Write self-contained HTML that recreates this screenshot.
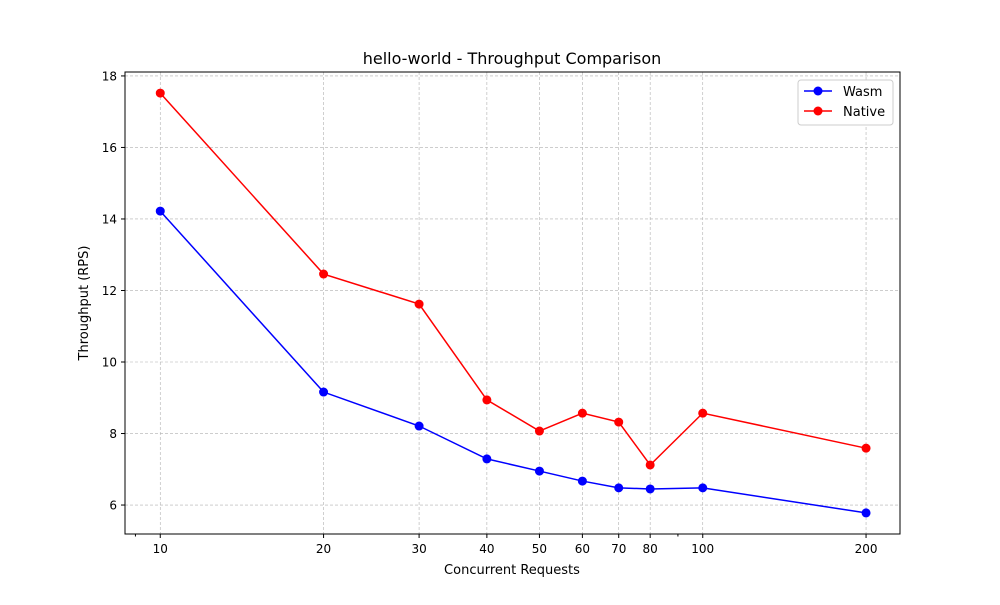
<!DOCTYPE html>
<html><head><meta charset="utf-8"><style>
body{margin:0;background:#fff;}
svg text{font-family:"DejaVu Sans","Liberation Sans",sans-serif;}
</style></head><body>
<svg id="chart" width="1000" height="600" xmlns="http://www.w3.org/2000/svg">
<rect width="1000" height="600" fill="#fff"/>
<text x="512" y="64" font-size="16" text-anchor="middle">hello-world - Throughput Comparison</text>
<text x="512" y="574" font-size="13" text-anchor="middle">Concurrent Requests</text>
<text transform="translate(88,303) rotate(-90)" font-size="13" text-anchor="middle">Throughput (RPS)</text>
<g id="grid"></g><g id="axes"></g><g id="series"></g>
<rect x="125" y="72" width="775" height="462" fill="none" stroke="#000" stroke-width="1"/>
<g>
<rect x="798" y="80" width="95" height="45" rx="3" fill="#fff" stroke="#ccc"/>
<g><line x1="804" y1="91" x2="832" y2="91" stroke="blue" stroke-width="1.5"/><circle cx="818" cy="91" r="4.5" fill="blue"/><text x="843" y="96" font-size="13">Wasm</text></g>
<g><line x1="804" y1="111" x2="832" y2="111" stroke="red" stroke-width="1.5"/><circle cx="818" cy="111" r="4.5" fill="red"/><text x="843" y="116" font-size="13">Native</text></g>
</g>
</svg>
<script>
const categories=[10,20,30,40,50,60,70,80,100,200];
const wasmValues=[14.22,9.16,8.21,7.29,6.95,6.67,6.48,6.45,6.48,5.78];
const nativeValues=[17.52,12.46,11.62,8.94,8.07,8.57,8.32,7.12,8.57,7.59];
const yTicks=[6,8,10,12,14,16,18];
const minorXTicks=[9,90];
const NS="http://www.w3.org/2000/svg";
const L=125,R=900,T=72,B=534;
const xmin=Math.log10(8.61),xmax=Math.log10(231),ymin=5.19,ymax=18.11;
const xs=v=>L+(Math.log10(v)-xmin)/(xmax-xmin)*(R-L);
const ys=v=>B-(v-ymin)/(ymax-ymin)*(B-T);
function mk(t,a,p){const e=document.createElementNS(NS,t);for(const k in a)e.setAttribute(k,a[k]);p.appendChild(e);return e;}
const grid=document.getElementById('grid'),axes=document.getElementById('axes'),ser=document.getElementById('series');
categories.forEach(c=>{const x=xs(c);
const g=mk('line',{x1:x,x2:x,y1:T,y2:B,stroke:'#b0b0b0','stroke-width':0.6,'stroke-dasharray':'3,2'},grid);

mk('line',{x1:x,x2:x,y1:B,y2:B+4,stroke:'#000'},axes);
const t=mk('text',{x:x,y:B+19,'font-size':12,'text-anchor':'middle'},axes);t.textContent=c;
});
minorXTicks.forEach(c=>{const x=xs(c);mk('line',{x1:x,x2:x,y1:B,y2:B+2.5,stroke:'#000'},axes);});
yTicks.forEach(v=>{const y=ys(v);
const g=mk('line',{x1:L,x2:R,y1:y,y2:y,stroke:'#b0b0b0','stroke-width':0.6,'stroke-dasharray':'3,2'},grid);

mk('line',{x1:L-4,x2:L,y1:y,y2:y,stroke:'#000'},axes);
const t=mk('text',{x:L-8,y:y+4.5,'font-size':12,'text-anchor':'end'},axes);t.textContent=v;
});
function series(vals,color,name){
const pts=categories.map((c,i)=>xs(c)+','+ys(vals[i])).join(' ');
const pl=mk('polyline',{points:pts,fill:'none',stroke:color,'stroke-width':1.5},ser);

categories.forEach((c,i)=>{const p=mk('circle',{cx:xs(c),cy:ys(vals[i]),r:4.5,fill:color},ser);
});}
series(wasmValues,'blue','wasm');
series(nativeValues,'red','native');
</script>
</body></html>
